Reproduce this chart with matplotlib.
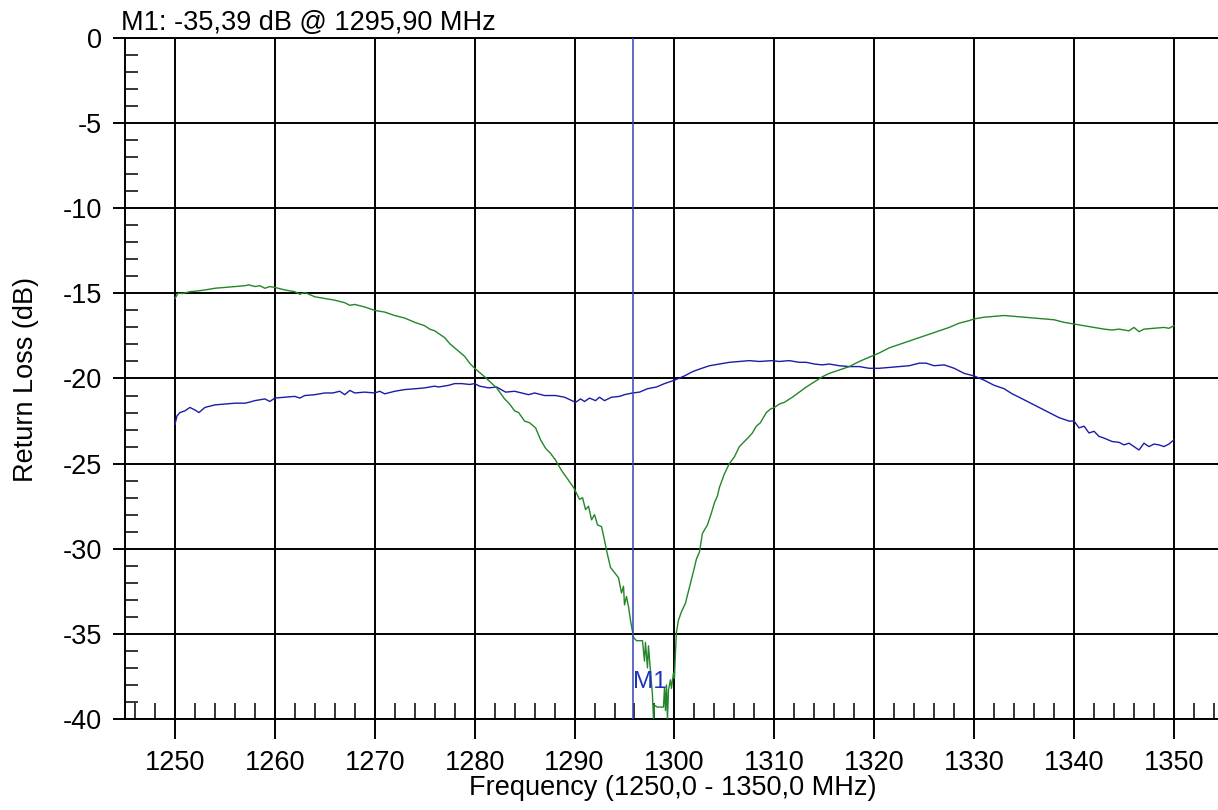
import numpy as np
import matplotlib
matplotlib.use("Agg")
import matplotlib.pyplot as plt
import matplotlib.ticker as ticker

plt.rcParams['font.family'] = ['Liberation Sans', 'DejaVu Sans']
plt.rcParams['axes.unicode_minus'] = False

MARKER_FREQ = 1295.9
MARKER_TEXT = "M1: -35,39 dB @ 1295,90 MHz"

# green trace (MHz, dB)
green_freq = [
    1250.0, 1250.3, 1250.8, 1251.5, 1252.4, 1253.0, 1254.0, 1255.0, 1256.0, 1257.0,
    1257.4, 1258.0, 1258.5, 1259.0, 1259.5, 1260.0, 1261.0, 1262.0, 1262.5, 1263.0,
    1264.0, 1265.0, 1266.0, 1267.0, 1267.5, 1268.0, 1269.0, 1270.0, 1271.0, 1272.0,
    1273.0, 1274.0, 1275.0, 1275.5, 1276.0, 1277.0, 1277.5, 1278.0, 1279.0, 1279.5,
    1280.0, 1281.0, 1282.2, 1283.0, 1283.5, 1284.0, 1284.4, 1285.0, 1285.5, 1286.1,
    1286.6, 1287.1, 1287.6, 1288.1, 1288.7, 1289.3, 1289.9, 1290.5, 1290.8, 1291.1,
    1291.4, 1291.7, 1292.0, 1292.3, 1292.7, 1293.0, 1293.2, 1293.6, 1294.0, 1294.4,
    1294.7, 1294.9, 1295.0, 1295.2, 1295.4, 1295.6, 1295.9, 1296.2, 1296.5, 1296.8,
    1297.0, 1297.1, 1297.3, 1297.4, 1297.6, 1297.8, 1297.9, 1298.0, 1298.3, 1298.6,
    1298.9, 1299.0, 1299.1, 1299.2, 1299.3, 1299.4, 1299.6, 1299.7, 1299.9, 1300.0,
    1300.1, 1300.2, 1300.4, 1300.7, 1301.1, 1301.4, 1301.7, 1302.0, 1302.2, 1302.5,
    1302.8, 1303.0, 1303.3, 1303.7, 1304.0, 1304.3, 1304.5, 1305.0, 1305.5, 1306.0,
    1306.5, 1307.0, 1307.5, 1307.8, 1308.2, 1308.6, 1309.2, 1309.6, 1310.0, 1310.5,
    1311.0, 1311.8, 1312.5, 1313.2, 1314.0, 1314.8, 1315.5, 1316.5, 1317.5, 1318.5,
    1319.5, 1320.5, 1321.5, 1322.5, 1323.5, 1324.5, 1325.5, 1326.5, 1327.5, 1328.5,
    1329.5, 1330.0, 1331.0, 1332.0, 1333.0, 1334.0, 1335.0, 1336.0, 1337.0, 1338.0,
    1339.0, 1340.0, 1341.0, 1342.0, 1343.0, 1343.8, 1344.5, 1345.5, 1346.0, 1346.5,
    1347.0, 1348.0, 1349.0, 1349.5, 1350.0,
]
green_db = [
    -15.3, -15.0, -15.0, -14.9, -14.85, -14.8, -14.7, -14.65, -14.6, -14.55,
    -14.5, -14.6, -14.55, -14.7, -14.6, -14.65, -14.8, -14.9, -15.05, -14.95,
    -15.2, -15.3, -15.4, -15.55, -15.7, -15.65, -15.8, -16.0, -16.1, -16.3,
    -16.45, -16.7, -16.9, -17.1, -17.2, -17.6, -17.95, -18.2, -18.7, -19.1,
    -19.4, -19.9, -20.55, -21.2, -21.5, -21.9, -22.0, -22.5, -22.6, -22.9,
    -23.6, -24.1, -24.4, -24.8, -25.4, -25.9, -26.4, -27.1, -27.0, -27.7,
    -27.5, -28.3, -28.0, -28.6, -28.7, -29.5, -30.1, -31.1, -31.4, -31.7,
    -32.6, -32.2, -33.3, -32.8, -33.4, -34.2, -35.2, -35.4, -35.4, -35.4,
    -36.6, -35.5, -37.0, -35.7, -37.2, -38.6, -40.0, -39.2, -39.3, -39.3,
    -39.3, -38.2, -39.5, -38.0, -40.0, -38.3, -37.7, -38.2, -37.3, -37.6,
    -36.1, -34.9, -34.2, -33.7, -33.2, -32.5, -31.8, -31.1, -30.6, -30.2,
    -29.1, -28.9, -28.6, -27.9, -27.3, -26.9, -26.4, -25.6, -25.0, -24.6,
    -24.0, -23.7, -23.4, -23.2, -22.8, -22.6, -22.0, -21.8, -21.7, -21.5,
    -21.4, -21.1, -20.8, -20.5, -20.2, -19.9, -19.7, -19.5, -19.3, -19.0,
    -18.75, -18.5, -18.2, -18.0, -17.8, -17.6, -17.4, -17.2, -17.0, -16.75,
    -16.6, -16.5, -16.4, -16.35, -16.3, -16.35, -16.4, -16.45, -16.5, -16.55,
    -16.7, -16.8, -16.9, -17.0, -17.1, -17.15, -17.1, -17.2, -17.0, -17.25,
    -17.1, -17.05, -17.0, -17.05, -16.9,
]

# blue trace (MHz, dB)
blue_freq = [
    1250.0, 1250.2, 1250.5, 1251.0, 1251.5, 1252.0, 1252.4, 1253.0, 1254.0, 1255.0,
    1256.0, 1257.0, 1257.4, 1258.0, 1259.0, 1259.5, 1260.0, 1261.0, 1262.0, 1262.5,
    1263.0, 1264.0, 1265.0, 1265.8, 1266.5, 1267.0, 1267.5, 1268.0, 1269.0, 1270.0,
    1270.5, 1271.0, 1272.0, 1273.0, 1274.1, 1275.0, 1276.0, 1276.4, 1277.4, 1278.0,
    1278.7, 1279.5, 1280.0, 1280.5, 1281.4, 1282.2, 1283.1, 1284.0, 1285.4, 1286.0,
    1287.0, 1288.1, 1289.0, 1290.1, 1290.6, 1291.0, 1291.5, 1292.1, 1292.5, 1293.0,
    1293.7, 1294.5, 1295.0, 1295.8, 1296.5, 1297.3, 1298.2, 1299.0, 1300.0, 1301.0,
    1301.8, 1302.5, 1303.5, 1304.5, 1305.5, 1306.5, 1307.5, 1308.5, 1309.8, 1310.5,
    1311.5, 1312.5, 1313.2, 1314.0, 1314.8, 1315.5, 1316.5, 1317.5, 1318.5, 1319.5,
    1320.5, 1321.5, 1322.5, 1323.5, 1324.5, 1325.2, 1326.0, 1327.0, 1328.0, 1329.0,
    1330.0, 1331.0, 1332.0, 1333.0, 1333.8, 1334.5, 1335.5, 1336.5, 1337.5, 1338.5,
    1339.5, 1340.0, 1340.5, 1341.0, 1341.5, 1342.0, 1342.5, 1343.0, 1343.8, 1344.5,
    1345.0, 1345.5, 1346.0, 1346.5, 1347.0, 1347.5, 1348.0, 1348.5, 1349.0, 1349.5,
    1350.0,
]
blue_db = [
    -22.7, -22.2, -22.0, -21.9, -21.7, -21.85, -22.0, -21.7, -21.55, -21.5,
    -21.45, -21.45, -21.4, -21.3, -21.2, -21.35, -21.15, -21.1, -21.05, -21.15,
    -21.0, -20.95, -20.85, -20.85, -20.75, -20.95, -20.7, -20.85, -20.8, -20.85,
    -20.75, -20.9, -20.75, -20.65, -20.6, -20.55, -20.45, -20.5, -20.4, -20.3,
    -20.3, -20.35, -20.3, -20.45, -20.55, -20.5, -20.8, -20.75, -20.95, -20.85,
    -21.0, -21.0, -21.1, -21.4, -21.2, -21.35, -21.15, -21.3, -21.1, -21.3,
    -21.1, -21.05, -20.95, -20.85, -20.8, -20.6, -20.5, -20.3, -20.1, -19.85,
    -19.6, -19.45, -19.25, -19.15, -19.05, -19.0, -18.95, -19.0, -18.95, -19.0,
    -18.95, -19.05, -19.05, -19.15, -19.2, -19.15, -19.25, -19.3, -19.3, -19.4,
    -19.4, -19.35, -19.3, -19.25, -19.1, -19.1, -19.25, -19.2, -19.4, -19.7,
    -19.85, -20.1, -20.4, -20.6, -20.9, -21.1, -21.4, -21.7, -22.0, -22.3,
    -22.5, -22.5, -22.9, -22.8, -23.2, -23.1, -23.4, -23.5, -23.7, -23.75,
    -23.9, -23.8, -24.0, -24.2, -23.8, -24.0, -23.85, -23.9, -24.0, -23.85,
    -23.6,
]

FS = 19.5

fig = plt.figure(figsize=(12.18, 8.10), dpi=100)
ax = fig.add_axes([125 / 1218, 91 / 810, 1 - 125 / 1218, (772 - 91) / 810])

ax.plot(blue_freq, blue_db, color='#1c1ca8', lw=1.0, zorder=3)
ax.plot(green_freq, green_db, color='#23862a', lw=1.0, zorder=3)
ax.axvline(MARKER_FREQ, color='#3344bb', lw=1.1, zorder=4)
ax.text(MARKER_FREQ, -38.2, "M1", color='#2233bb', fontsize=17.5, ha='left',
        va='baseline', zorder=5)

ax.set_xlim(1245, 1245 + 1093 / 9.99)
ax.set_ylim(-40, 0)

ax.xaxis.set_major_locator(ticker.MultipleLocator(10))
ax.xaxis.set_minor_locator(ticker.MultipleLocator(2))
ax.yaxis.set_major_locator(ticker.MultipleLocator(5))
ax.yaxis.set_minor_locator(ticker.MultipleLocator(1))
ax.set_xticks(np.arange(1250, 1351, 10))

ax.grid(True, which='major', color='black', lw=1.4)
ax.tick_params(axis='x', which='major', direction='out', length=14.5, width=1.4,
               pad=8, labelsize=FS)
ax.tick_params(axis='y', which='major', direction='out', length=8.6, width=1.4,
               pad=8, labelsize=FS)
ax.tick_params(axis='x', which='minor', direction='in', length=11.5, width=1.1)
ax.tick_params(axis='y', which='minor', direction='in', length=9.4, width=1.1)

for side in ['left', 'top', 'bottom']:
    ax.spines[side].set_linewidth(1.4)
    ax.spines[side].set_color('black')
ax.spines['right'].set_visible(False)

fig.text(121 / 1218, 1 - 30 / 810, MARKER_TEXT, fontsize=FS, ha='left', va='baseline')
fig.text(26 / 1218, 1 - 379 / 810, "Return Loss (dB)", fontsize=FS, rotation=90,
         ha='center', va='center')
fig.text(673 / 1218, 15 / 810, "Frequency (1250,0 - 1350,0 MHz)", fontsize=FS,
         ha='center', va='baseline')

fig.savefig("out.png", dpi=100)
